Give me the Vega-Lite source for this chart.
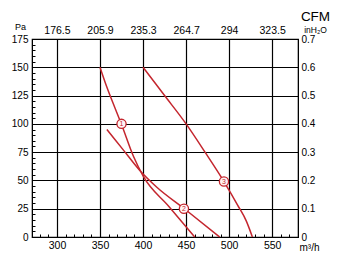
{
  "$schema": "https://vega.github.io/schema/vega-lite/v6.json",
  "width": 266,
  "height": 198,
  "autosize": {"type": "none"},
  "padding": {"left": 32, "top": 39, "right": 43, "bottom": 30},
  "background": "white",
  "config": {
    "font": "Liberation Sans",
    "view": {"stroke": "black", "strokeWidth": 1.2},
    "axis": {
      "labelColor": "black",
      "titleColor": "black",
      "domainColor": "black",
      "tickColor": "black",
      "gridColor": "black",
      "titleFontWeight": "normal",
      "labelOverlap": false,
      "labelFlush": false
    }
  },
  "datasets": {
    "curves": [
      {"curve": "A", "Q": 350, "P": 150},
      {"curve": "A", "Q": 357.7, "P": 133},
      {"curve": "A", "Q": 367.4, "P": 114},
      {"curve": "A", "Q": 375, "P": 99.5},
      {"curve": "A", "Q": 388.7, "P": 71.6},
      {"curve": "A", "Q": 400, "P": 54},
      {"curve": "A", "Q": 430, "P": 27},
      {"curve": "A", "Q": 460, "P": 0},
      {"curve": "B", "Q": 358, "P": 95},
      {"curve": "B", "Q": 377, "P": 77},
      {"curve": "B", "Q": 396, "P": 59},
      {"curve": "B", "Q": 416, "P": 44},
      {"curve": "B", "Q": 448, "P": 25},
      {"curve": "B", "Q": 489, "P": 0},
      {"curve": "C", "Q": 400, "P": 150},
      {"curve": "C", "Q": 425, "P": 125},
      {"curve": "C", "Q": 450, "P": 100},
      {"curve": "C", "Q": 472, "P": 75},
      {"curve": "C", "Q": 494, "P": 49},
      {"curve": "C", "Q": 510, "P": 28},
      {"curve": "C", "Q": 520, "P": 14},
      {"curve": "C", "Q": 527, "P": 0}
    ],
    "markers": [
      {"label": "1", "Q": 375, "P": 100},
      {"label": "2", "Q": 447.5, "P": 25},
      {"label": "3", "Q": 494, "P": 49}
    ],
    "secondary": [
      {"Q": 300, "inH2O": 0}
    ]
  },
  "resolve": {
    "scale": {"x": "independent", "y": "independent"},
    "axis": {"x": "independent", "y": "independent"}
  },
  "layer": [
    {
      "encoding": {
        "x": {
          "field": "Q", "type": "quantitative",
          "scale": {"domain": [271, 580], "nice": false, "zero": false},
          "axis": {
            "orient": "bottom",
            "values": [280, 290, 300, 310, 320, 330, 340, 350, 360, 370, 380, 390, 400, 410, 420, 430, 440, 450, 460, 470, 480, 490, 500, 510, 520, 530, 540, 550, 560, 570],
            "labelExpr": "datum.value % 50 == 0 ? datum.label : ''",
            "grid": true,
            "gridWidth": 1.2,
            "gridOpacity": {"condition": {"test": "datum.value % 50 == 0", "value": 1}, "value": 0},
            "tickSize": -3,
            "labelFontSize": 10.5,
            "labelPadding": 6,
            "title": "m³/h",
            "titleFontSize": 10,
            "titleAngle": 0,
            "titleAlign": "center",
            "titleBaseline": "alphabetic",
            "titleX": 277,
            "titleY": 13
          }
        },
        "y": {
          "field": "P", "type": "quantitative",
          "scale": {"domain": [0, 175], "nice": false, "zero": true},
          "axis": {
            "orient": "left",
            "values": [0, 5, 10, 15, 20, 25, 30, 35, 40, 45, 50, 55, 60, 65, 70, 75, 80, 85, 90, 95, 100, 105, 110, 115, 120, 125, 130, 135, 140, 145, 150, 155, 160, 165, 170, 175],
            "labelExpr": "datum.value % 25 == 0 ? datum.label : ''",
            "grid": true,
            "gridWidth": 1.2,
            "gridOpacity": {"condition": {"test": "datum.value % 25 == 0", "value": 1}, "value": 0},
            "tickSize": -3,
            "labelFontSize": 10,
            "labelPadding": 7,
            "title": "Pa",
            "titleFontSize": 9,
            "titleAngle": 0,
            "titleAlign": "center",
            "titleBaseline": "alphabetic",
            "titleX": -12,
            "titleY": -10
          }
        }
      },
      "layer": [
        {
          "data": {"name": "curves"},
          "mark": {"type": "line", "color": "#c4262e", "strokeWidth": 1.5, "interpolate": "monotone"},
          "encoding": {"detail": {"field": "curve", "type": "nominal"}}
        },
        {
          "data": {"name": "markers"},
          "mark": {"type": "point", "shape": "circle", "size": 85, "filled": false, "fill": "#fff4f4", "fillOpacity": 1, "stroke": "#c4262e", "strokeWidth": 1.3, "opacity": 1}
        },
        {
          "data": {"name": "markers"},
          "mark": {"type": "text", "color": "#c4262e", "fontSize": 7, "align": "center", "baseline": "middle"},
          "encoding": {"text": {"field": "label", "type": "nominal"}}
        }
      ]
    },
    {
      "data": {"name": "secondary"},
      "mark": {"type": "point", "opacity": 0},
      "encoding": {
        "x": {
          "field": "Q", "type": "quantitative",
          "scale": {"domain": [271, 580], "nice": false, "zero": false},
          "axis": {
            "orient": "top",
            "values": [300, 350, 400, 450, 500, 550],
            "labelExpr": "datum.value == 300 ? '176.5' : datum.value == 350 ? '205.9' : datum.value == 400 ? '235.3' : datum.value == 450 ? '264.7' : datum.value == 500 ? '294' : '323.5'",
            "ticks": false,
            "grid": false,
            "labelFontSize": 10.5,
            "labelPadding": 4,
            "title": "CFM",
            "titleFontSize": 13.5,
            "titleAngle": 0,
            "titleAlign": "center",
            "titleBaseline": "alphabetic",
            "titleX": 283,
            "titleY": -19
          }
        },
        "y": {
          "field": "inH2O", "type": "quantitative",
          "scale": {"domain": [0, 0.7], "nice": false, "zero": true},
          "axis": {
            "orient": "right",
            "values": [0, 0.1, 0.2, 0.3, 0.4, 0.5, 0.6, 0.7],
            "labelExpr": "datum.value == 0 ? '0' : format(datum.value, '.1f')",
            "ticks": false,
            "grid": false,
            "labelFontSize": 10,
            "labelPadding": 3,
            "title": "inH₂O",
            "titleFontSize": 8.5,
            "titleAngle": 0,
            "titleAlign": "center",
            "titleBaseline": "alphabetic",
            "titleX": 17,
            "titleY": -7
          }
        }
      }
    }
  ]
}
